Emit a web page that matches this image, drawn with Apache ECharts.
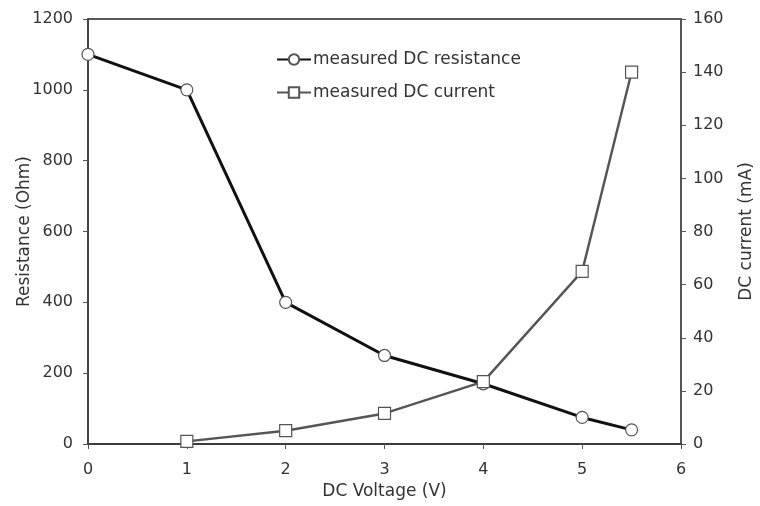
<!DOCTYPE html>
<html><head><meta charset="utf-8">
<script src="https://cdn.jsdelivr.net/npm/echarts@6/dist/echarts.min.js"></script>
<style>html,body{margin:0;padding:0;background:#fff}#c{width:760px;height:506px}</style>
</head><body><div id="c"></div>
<script>
const voltage = [0, 1, 2, 3, 4, 5, 5.5];
const resistance = [1100, 1000, 400, 250, 170, 75, 40];
const currentV = [1, 2, 3, 4, 5, 5.5];
const currentMA = [1, 5, 11.5, 23.5, 65, 140];
const xTicks = [0, 1, 2, 3, 4, 5, 6];
const leftTicks = [0, 200, 400, 600, 800, 1000, 1200];
const rightTicks = [0, 20, 40, 60, 80, 100, 120, 140, 160];

const F = '"DejaVu Sans", sans-serif';
const FS = 17;   // names / legend
const TS = 16;   // tick labels
const chart = echarts.init(document.getElementById('c'));
chart.setOption({
  animation: false,
  textStyle: { fontFamily: F },
  grid: { left: 88, right: 79, top: 19, bottom: 62, outerBoundsMode: 'none', containLabel: false,
          show: true, borderColor: '#222', borderWidth: 1.5, backgroundColor: '#fff' },
  legend: {
    orient: 'vertical', left: 271, top: 46, itemGap: 16, itemWidth: 34, itemHeight: 13,
    textStyle: { fontFamily: F, fontSize: FS, color: '#333', padding: [0, 0, 0, -3] },
    data: ['measured DC resistance', 'measured DC current']
  },
  xAxis: {
    type: 'value', min: 0, max: 6, interval: 1,
    name: 'DC Voltage (V)', nameLocation: 'middle', nameGap: 39, nameMoveOverlap: false,
    nameTextStyle: { fontFamily: F, fontSize: FS, color: '#333' },
    axisLine: { lineStyle: { color: '#333', width: 1.5 } },
    axisTick: { show: true, length: 5, lineStyle: { color: '#555' } },
    axisLabel: { fontFamily: F, fontSize: TS, color: '#333', margin: 18,
      formatter: v => String(xTicks.includes(v) ? v : '') },
    splitLine: { show: false }
  },
  yAxis: [{
    type: 'value', min: 0, max: 1200, interval: 200, position: 'left',
    name: 'Resistance (Ohm)', nameLocation: 'middle', nameGap: 63, nameRotate: 90, nameMoveOverlap: false,
    nameTextStyle: { fontFamily: F, fontSize: FS, color: '#333', verticalAlign: 'middle' },
    axisLine: { show: true, lineStyle: { color: '#444', width: 2 } },
    axisTick: { show: true, length: 5, lineStyle: { color: '#555' } },
    axisLabel: { fontFamily: F, fontSize: TS, color: '#333', margin: 15,
      formatter: v => String(leftTicks.includes(v) ? v : '') },
    splitLine: { show: false }
  }, {
    type: 'value', min: 0, max: 160, interval: 20, position: 'right',
    name: 'DC current (mA)', nameLocation: 'middle', nameGap: 66, nameRotate: 90, nameMoveOverlap: false,
    nameTextStyle: { fontFamily: F, fontSize: FS, color: '#333', verticalAlign: 'middle' },
    axisLine: { show: true, lineStyle: { color: '#555', width: 2 } },
    axisTick: { show: true, length: 5, lineStyle: { color: '#555' } },
    axisLabel: { fontFamily: F, fontSize: TS, color: '#333', margin: 12,
      formatter: v => String(rightTicks.includes(v) ? v : '') },
    splitLine: { show: false }
  }],
  series: [{
    name: 'measured DC resistance', type: 'line', yAxisIndex: 0,
    data: voltage.map((v, i) => [v, resistance[i]]),
    symbol: 'circle', symbolSize: 12,
    lineStyle: { color: '#111', width: 3 },
    itemStyle: { color: '#fff', borderColor: '#555', borderWidth: 1.2 },
    z: 3
  }, {
    name: 'measured DC current', type: 'line', yAxisIndex: 1,
    data: currentV.map((v, i) => [v, currentMA[i]]),
    symbol: 'rect', symbolSize: 12,
    lineStyle: { color: '#555', width: 2.4 },
    itemStyle: { color: '#fff', borderColor: '#555', borderWidth: 1.2 },
    z: 4
  }]
});
</script></body></html>
